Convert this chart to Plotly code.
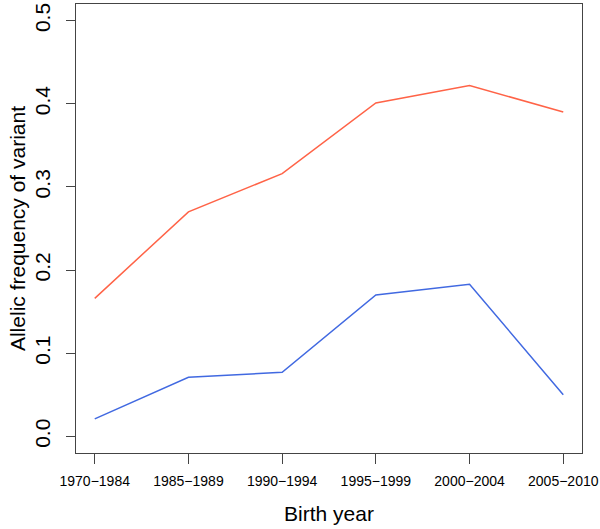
import plotly.graph_objects as go

categories = ["1970−1984", "1985−1989", "1990−1994", "1995−1999", "2000−2004", "2005−2010"]
red_values = [0.166, 0.270, 0.316, 0.401, 0.422, 0.390]
blue_values = [0.021, 0.071, 0.077, 0.170, 0.183, 0.050]
y_ticks = [0.0, 0.1, 0.2, 0.3, 0.4, 0.5]

xpos = list(range(1, len(categories) + 1))

fig = go.Figure()
fig.add_trace(go.Scatter(x=xpos, y=red_values, mode="lines",
                         line=dict(color="#FF6347", width=1.5), showlegend=False))
fig.add_trace(go.Scatter(x=xpos, y=blue_values, mode="lines",
                         line=dict(color="#4169E1", width=1.5), showlegend=False))

font_family = "Liberation Sans, Arial, Helvetica, sans-serif"

fig.update_layout(
    width=600, height=529,
    margin=dict(l=76, r=18, t=4, b=76),
    paper_bgcolor="white", plot_bgcolor="white",
    font=dict(family=font_family, color="black"),
    xaxis=dict(
        range=[0.8, 6.2], tickmode="array", tickvals=xpos, ticktext=categories,
        showgrid=False, zeroline=False, showline=True, mirror=True,
        linecolor="#444", linewidth=1.3, ticks="outside", ticklen=10,
        tickcolor="#444", tickwidth=1.3, tickfont=dict(size=14),
        ticklabelstandoff=5, automargin=False,
        title=dict(text="Birth year", font=dict(size=21), standoff=18),
    ),
    yaxis=dict(
        range=[-0.02, 0.52], tickmode="array", tickvals=y_ticks,
        ticktext=[f"{v:.1f}" for v in y_ticks],
        showgrid=False, zeroline=False, showline=True, mirror=True,
        linecolor="#444", linewidth=1.3, ticks="outside", ticklen=9,
        tickcolor="#444", tickwidth=1.3, tickfont=dict(size=21),
        tickangle=-90, ticklabelstandoff=7, automargin=False,
        title=dict(text="Allelic frequency of variant", font=dict(size=21), standoff=0),
    ),
)

fig.write_html("out.html", config={"displayModeBar": False})

with open("out.html", "r", encoding="utf-8") as f:
    html = f.read()
html = html.replace("<head>", "<head><style>html,body{margin:0;padding:0;overflow:hidden;}</style>", 1)
with open("out.html", "w", encoding="utf-8") as f:
    f.write(html)
